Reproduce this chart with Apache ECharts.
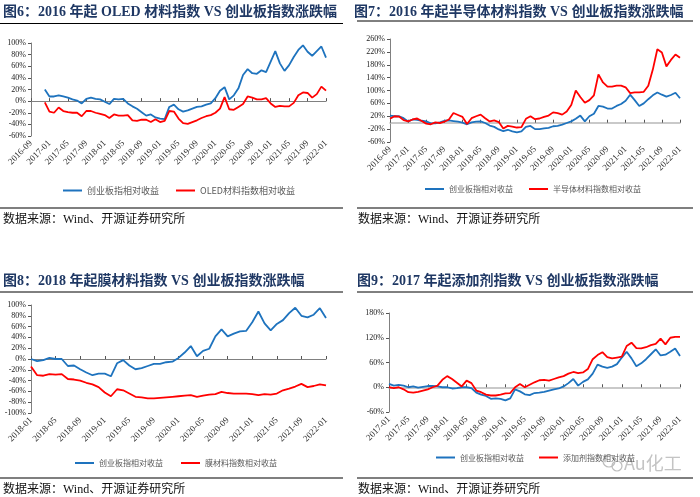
<!DOCTYPE html>
<html><head><meta charset="utf-8">
<script src="https://cdn.jsdelivr.net/npm/echarts@6/dist/echarts.min.js"></script>
<style>html,body{margin:0;padding:0;background:#fff}#c{width:700px;height:497px}</style>
</head><body><div id="c"></div>
<script>
function months(y0,m0,y1,m1){const a=[];let y=y0,m=m0;while(y<y1||(y===y1&&m<=m1)){a.push(y+'-'+String(m).padStart(2,'0'));m++;if(m>12){m=1;y++;}}return a;}

// Categories (monthly)
const cat1 = months(2016,9,2022,1);
const cat2 = months(2016,9,2022,1);
const cat3 = months(2018,1,2022,1);
const cat4 = months(2017,1,2022,1);

// Y tick labels
const yTicks2 = [-60,-20,20,60,100,140,180,220,260];

// Series names
const nameBlue = '创业板指相对收益';
const nameRed1 = 'OLED材料指数相对收益';
const nameRed2 = '半导体材料指数相对收益';
const nameRed3 = '膜材料指数相对收益';
const nameRed4 = '添加剂指数相对收益';

// Values (%)
const p1Blue = [null,null,null,20,8,8,10,8,6,3,1,-4,4,6,4,3,-1,-5,4,3,4,-4,-9,-13,-19,-25,-23,-28,-30,-31,-10,-6,-14,-18,-16,-13,-10,-9,-6,-4,5,18,24,3,10,22,45,55,48,47,53,50,68,86,65,52,62,76,88,96,85,78,86,94,75];
const p1Red = [null,null,null,-2,-18,-20,-11,-17,-19,-20,-20,-26,-17,-17,-20,-22,-24,-29,-23,-25,-25,-24,-33,-34,-32,-32,-36,-31,-36,-34,-17,-18,-30,-38,-39,-36,-33,-29,-26,-24,-20,-13,7,-14,-15,-10,-5,8,6,3,3,5,-4,-10,-8,-9,-9,-3,10,15,14,6,12,25,18];
const p2Blue = [22,20,20,14,4,10,9,6,4,-2,-2,1,6,7,5,3,0,-5,1,3,4,-1,-9,-13,-21,-26,-22,-27,-30,-27,-13,-10,-20,-20,-18,-16,-11,-10,-6,-1,4,12,22,4,20,28,52,50,44,44,52,58,68,87,70,52,60,73,85,94,87,81,86,93,76];
const p2Red = [12,20,19,8,4,10,13,5,-3,-5,1,-1,3,10,30,24,18,-4,14,20,25,14,4,7,2,-18,-10,-12,-15,-14,12,20,11,13,18,22,32,30,25,35,55,100,80,62,70,85,150,125,112,112,115,115,110,92,94,94,96,115,165,228,218,175,195,212,202];
const p3Blue = [0,-4,-2,2,0,0,-13,-12,-19,-25,-30,-27,-27,-32,-8,-2,-12,-19,-17,-13,-9,-9,-6,-5,2,12,24,5,15,19,42,55,42,47,51,52,68,88,66,53,65,72,85,95,80,77,82,94,76];
const p3Red = [-14,-30,-31,-28,-29,-28,-37,-38,-40,-44,-47,-52,-62,-69,-56,-58,-64,-70,-71,-73,-73,-72,-71,-70,-69,-68,-67,-70,-68,-66,-65,-61,-63,-64,-64,-64,-65,-67,-65,-66,-64,-58,-55,-51,-46,-52,-50,-47,-49];
const p4Blue = [8,4,6,4,0,2,-1,1,3,3,2,0,0,-3,-2,0,0,-2,-13,-18,-21,-28,-27,-28,-32,-27,-5,-10,-17,-19,-14,-13,-11,-8,-5,-3,2,10,20,4,13,19,33,55,50,47,50,56,72,86,70,51,58,68,80,92,77,79,86,94,76];
const p4Red = [0,-2,0,-5,-12,-13,-11,-8,-5,0,4,18,27,20,11,2,16,10,-8,-12,-18,-20,-20,-18,-15,-14,0,8,0,6,12,17,18,16,20,24,27,33,37,34,36,44,68,78,85,73,70,72,74,100,108,95,94,97,102,105,118,104,120,122,122];

const BLUE = '#1E73BE', RED = '#FF0000';
const SERIF = '"Liberation Serif","Times New Roman","Noto Sans CJK SC",serif';
const SANS = '"Noto Sans CJK SC","Noto Sans",sans-serif';

const panels = [
  {grid:{left:31,top:43,width:295,height:93}, cats:cat1, y:{min:-60,max:100,interval:20}, blue:p1Blue, red:p1Red, redName:nameRed1, zero:{color:'#808080',width:1},
   legend:{left:63,top:186,gap:17,font:9}},
  {grid:{left:390,top:39,width:290,height:103}, cats:cat2, y:{min:-60,max:260,custom:yTicks2}, blue:p2Blue, red:p2Red, redName:nameRed2, zero:{color:'#b8b8b8',width:1.5},
   legend:{left:425,top:185,gap:16,font:8}},
  {grid:{left:31,top:305,width:295,height:108}, cats:cat3, y:{min:-100,max:100,interval:20}, blue:p3Blue, red:p3Red, redName:nameRed3, zero:{color:'#808080',width:1},
   legend:{left:75,top:459,gap:18,font:8}},
  {grid:{left:389,top:313,width:291,height:99}, cats:cat4, y:{min:-60,max:180,interval:60}, blue:p4Blue, red:p4Red, redName:nameRed4, zero:{color:'#b8b8b8',width:1.5},
   legend:{left:436,top:453.5,gap:15,font:8}}
];

const grid=[], xAxis=[], yAxis=[], series=[], legend=[];
panels.forEach((p,i)=>{
  grid.push(Object.assign({containLabel:false}, p.grid));
  const ya = {type:'value', gridIndex:i, min:p.y.min, max:p.y.max, splitLine:{show:false},
    axisLine:{show:true, lineStyle:{color:'#808080', width:1}},
    axisTick:{show:true, length:3, lineStyle:{color:'#555'}},
    axisLabel:{fontSize:8, fontFamily:SERIF, color:'#222', margin:5, formatter:'{value}%'}};
  if (p.y.interval) ya.interval = p.y.interval;
  if (p.y.custom) { ya.axisLabel.customValues = p.y.custom; ya.axisTick.customValues = p.y.custom; }
  yAxis.push(ya);
  xAxis.push({type:'category', gridIndex:i, data:p.cats, boundaryGap:false, position:'bottom',
    axisLine:{show:true, onZero:true, lineStyle:{color:p.zero.color, width:p.zero.width}},
    axisTick:{show:true, inside:true, length:3, interval:3, lineStyle:{color:'#555'}},
    axisLabel:{show:false}, splitLine:{show:false}});
  xAxis.push({type:'category', gridIndex:i, data:p.cats, boundaryGap:false, position:'bottom',
    axisLine:{show:false, onZero:false}, axisTick:{show:false},
    axisLabel:{interval:3, rotate:45, fontSize:9, fontFamily:SERIF, color:'#333', margin:6}, splitLine:{show:false}});
  series.push({type:'line', name:nameBlue, xAxisIndex:2*i, yAxisIndex:i, data:p.blue, symbol:'none',
    lineStyle:{width:1.8, color:BLUE}, itemStyle:{color:BLUE}});
  series.push({type:'line', name:p.redName, xAxisIndex:2*i, yAxisIndex:i, data:p.red, symbol:'none',
    lineStyle:{width:1.8, color:RED}, itemStyle:{color:RED}});
  legend.push({left:p.legend.left, top:p.legend.top, orient:'horizontal', icon:'rect', itemWidth:19, itemHeight:2, itemGap:p.legend.gap,
    data:[nameBlue, p.redName], selectedMode:false, padding:0,
    textStyle:{fontSize:p.legend.font, fontFamily:SANS, color:'#595959'}});
});

const titleFont = 'bold 14px ' + SERIF;
const srcFont = '12px ' + SERIF;
function txt(x,y,t,font,fill){return {type:'text', x:x, y:y, style:{text:t, font:font, fill:fill, textVerticalAlign:'middle'}};}
function hline(x1,x2,y,w,c){return {type:'line', shape:{x1:x1,y1:y,x2:x2,y2:y}, style:{stroke:c, lineWidth:w}};}

const graphic = [
  txt(3,12,'图6：2016 年起 OLED 材料指数 VS 创业板指数涨跌幅',titleFont,'#1F3864'),
  txt(354,12,'图7：2016 年起半导体材料指数 VS 创业板指数涨跌幅',titleFont,'#1F3864'),
  txt(3,281.5,'图8：2018 年起膜材料指数 VS 创业板指数涨跌幅',titleFont,'#1F3864'),
  txt(357,281.5,'图9：2017 年起添加剂指数 VS 创业板指数涨跌幅',titleFont,'#1F3864'),
  hline(0,343,23.5,1,'#000'), hline(357,693,21,1,'#000'),
  hline(0,343,292,1,'#000'), hline(357,693,292,1,'#000'),
  hline(0,343,208,2,'#7f7f7f'), hline(357,693,208,2,'#7f7f7f'),
  hline(0,343,478,2,'#7f7f7f'), hline(357,693,478,2,'#7f7f7f'),
  txt(3,219.5,'数据来源：Wind、开源证券研究所',srcFont,'#111'),
  txt(358,219.5,'数据来源：Wind、开源证券研究所',srcFont,'#111'),
  txt(3,489.5,'数据来源：Wind、开源证券研究所',srcFont,'#111'),
  txt(358,489.5,'数据来源：Wind、开源证券研究所',srcFont,'#111'),
  {type:'circle', shape:{cx:609,cy:461,r:6}, style:{fill:'none', stroke:'#bdbdbd', lineWidth:1.2}},
  {type:'circle', shape:{cx:617,cy:466,r:5}, style:{fill:'none', stroke:'#bdbdbd', lineWidth:1.2}},
  txt(624,463,'Au化工','18px '+SANS,'#c4c4c4')
];

const chart = echarts.init(document.getElementById('c'));
chart.setOption({animation:false, backgroundColor:'#fff', grid, xAxis, yAxis, series, legend, graphic});
</script></body></html>
